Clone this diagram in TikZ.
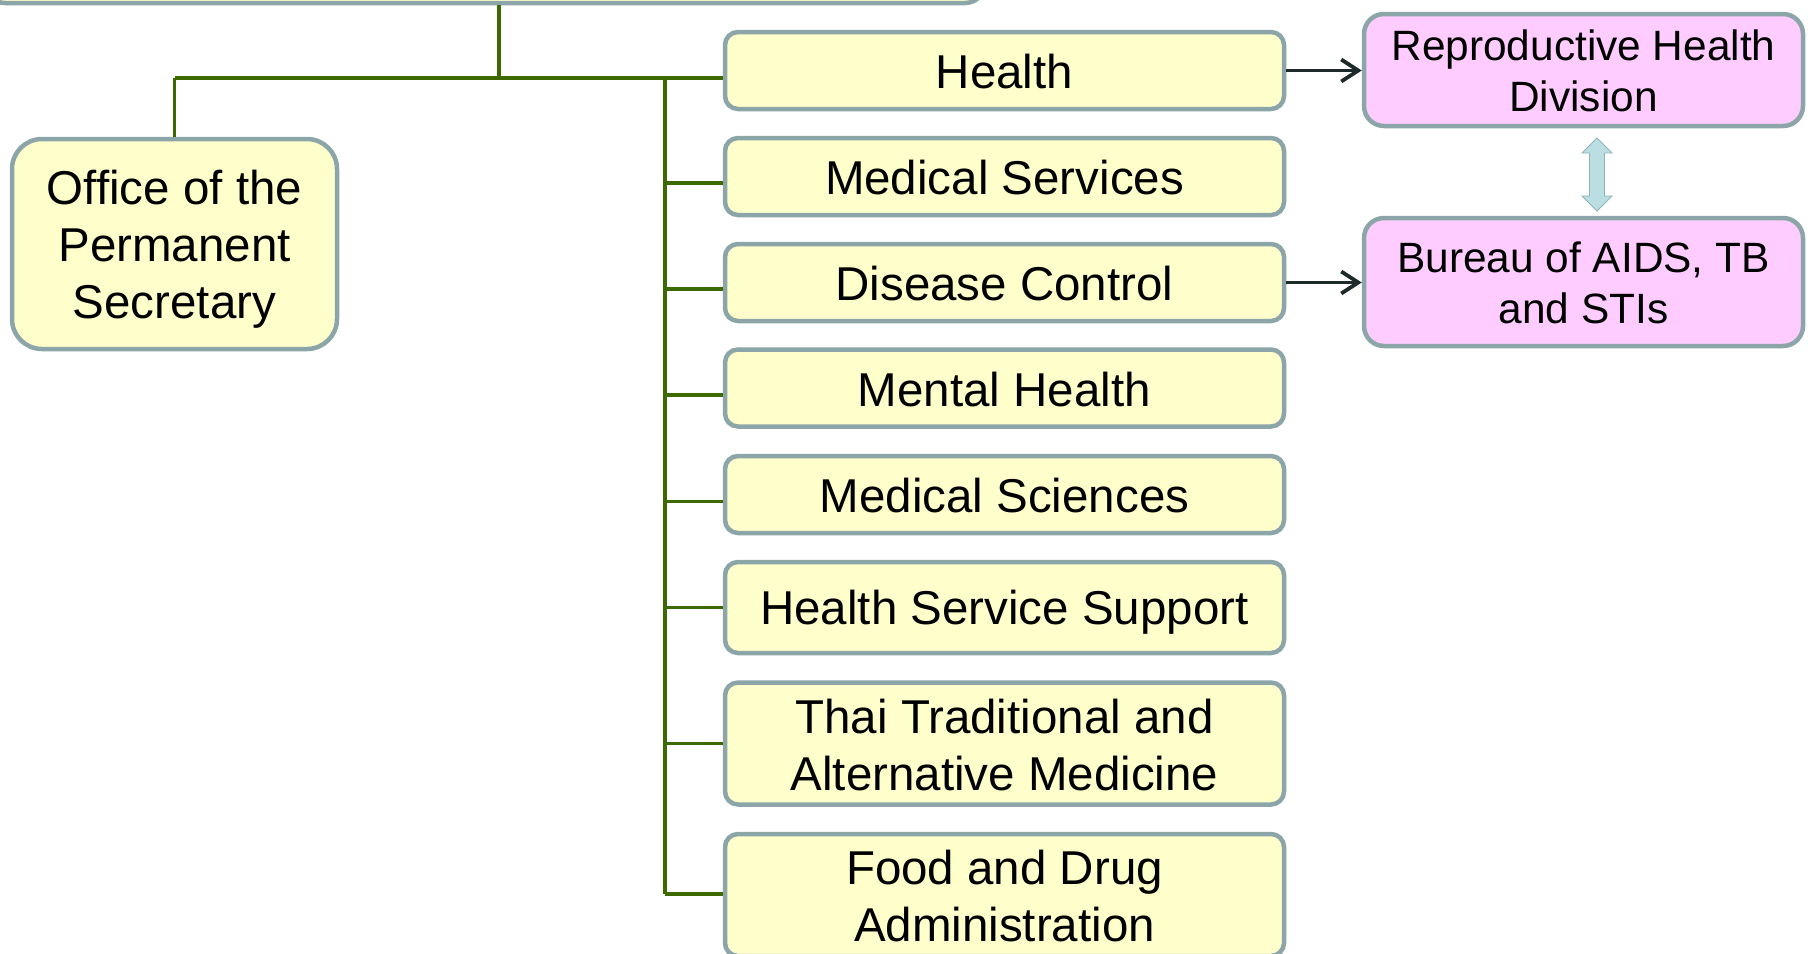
\documentclass[tikz,border=0pt]{standalone}
\usepackage{fontspec}
\setmainfont{Liberation Sans}
\usetikzlibrary{arrows.meta}
\definecolor{boxfill}{HTML}{FFFFCC}
\definecolor{boxline}{HTML}{8CA5A8}
\definecolor{pinkfill}{HTML}{FFCCFF}
\definecolor{linegreen}{HTML}{3C6A00}
\definecolor{arrowdark}{HTML}{1C2A2A}
\definecolor{dblfill}{HTML}{BADEE2}
\definecolor{dblline}{HTML}{8FB3B8}
\newcommand\lnstrut{\rule[-0.17em]{0pt}{1.1em}}
\begin{document}
\begin{tikzpicture}[x=1pt,y=-1pt,
  ybox/.style={draw=boxline,fill=boxfill,line width=4.5pt,rounded corners=13pt,
    minimum width=559pt,inner sep=0pt,align=center,
    font=\fontsize{47.5}{57}\selectfont},
  pbox/.style={draw=boxline,fill=pinkfill,line width=4.5pt,rounded corners=20pt,
    minimum width=439pt,inner sep=0pt,align=center,
    font=\fontsize{42.4}{51}\selectfont},
  gline/.style={draw=linegreen,line width=3.4pt},
  darr/.style={draw=arrowdark,line width=3.8pt,-{Straight Barb[length=17pt,width=22pt]}}]
\useasboundingbox (0,0) rectangle (1812,953);
% top box (cut off)
\node[draw=boxline,fill=boxfill,line width=4.5pt,rounded corners=20pt,
  minimum width=1000pt,minimum height=106pt,inner sep=0pt] (top) at (485,-50) {};
% office
\node[ybox,minimum width=325pt,minimum height=210pt,rounded corners=30pt]
  (office) at (174.5,244) {\lnstrut Office of the\\\lnstrut Permanent\\\lnstrut Secretary};
% departments
\node[ybox,minimum height=77pt] (health) at (1004.5,70.5) {\lnstrut Health};
\node[ybox,minimum height=77pt] (medserv) at (1004.5,176.5) {\lnstrut Medical Services};
\node[ybox,minimum height=77pt] (disease) at (1004.5,282.5) {\lnstrut Disease Control};
\node[ybox,minimum height=77pt] (mental) at (1004.5,388) {\lnstrut Mental Health};
\node[ybox,minimum height=77pt] (medsci) at (1004.5,494.5) {\lnstrut Medical Sciences};
\node[ybox,minimum height=91pt] (hss) at (1004.5,607.5) {\lnstrut Health Service Support};
\node[ybox,minimum height=122pt] (thai) at (1004.5,743.5) {\lnstrut Thai Traditional and\\\lnstrut Alternative Medicine};
\node[ybox,minimum height=122pt] (food) at (1004.5,895) {\lnstrut Food and Drug\\\lnstrut Administration};
% pink boxes
\node[pbox,minimum height=112pt] (repro) at (1583.5,70) {\lnstrut Reproductive Health\\\lnstrut Division};
\node[pbox,minimum height=128pt] (bureau) at (1583.5,282) {\lnstrut Bureau of AIDS, TB\\\lnstrut and STIs};
% green connectors
\coordinate (j1) at (499,78);
\coordinate (bus) at (665,78);
\coordinate (busend) at (665,894);
\path ([yshift=-7.5pt]health.west) coordinate (bhealth);
\draw[gline] (top.south -| j1) -- (j1);
\draw[gline,line width=4.2pt] (office.north |- j1) -- (bhealth);
\draw[gline] (office.north |- j1) -- (office.north);
\draw[gline] (bus) -- (busend);
\foreach \n/\dy in {medserv/6.5,disease/6.5,mental/7,medsci/7,hss/0,thai/0,food/-1}{
  \path ([yshift=-\dy pt]\n.west) coordinate (b\n);
  \draw[gline] (bus |- b\n) -- (b\n);
}
% arrows to pink boxes
\draw[darr] (health.east) -- (repro.west |- health.east);
\draw[darr] (disease.east) -- (bureau.west |- disease.east);
% double arrow
\draw[draw=dblline,fill=dblfill,line width=0.8pt]
  (1597,138) -- (1612,153) -- (1604.5,153) -- (1604.5,196) -- (1612,196)
  -- (1597,211) -- (1582,196) -- (1589.5,196) -- (1589.5,153) -- (1582,153) -- cycle;
\end{tikzpicture}
\end{document}
